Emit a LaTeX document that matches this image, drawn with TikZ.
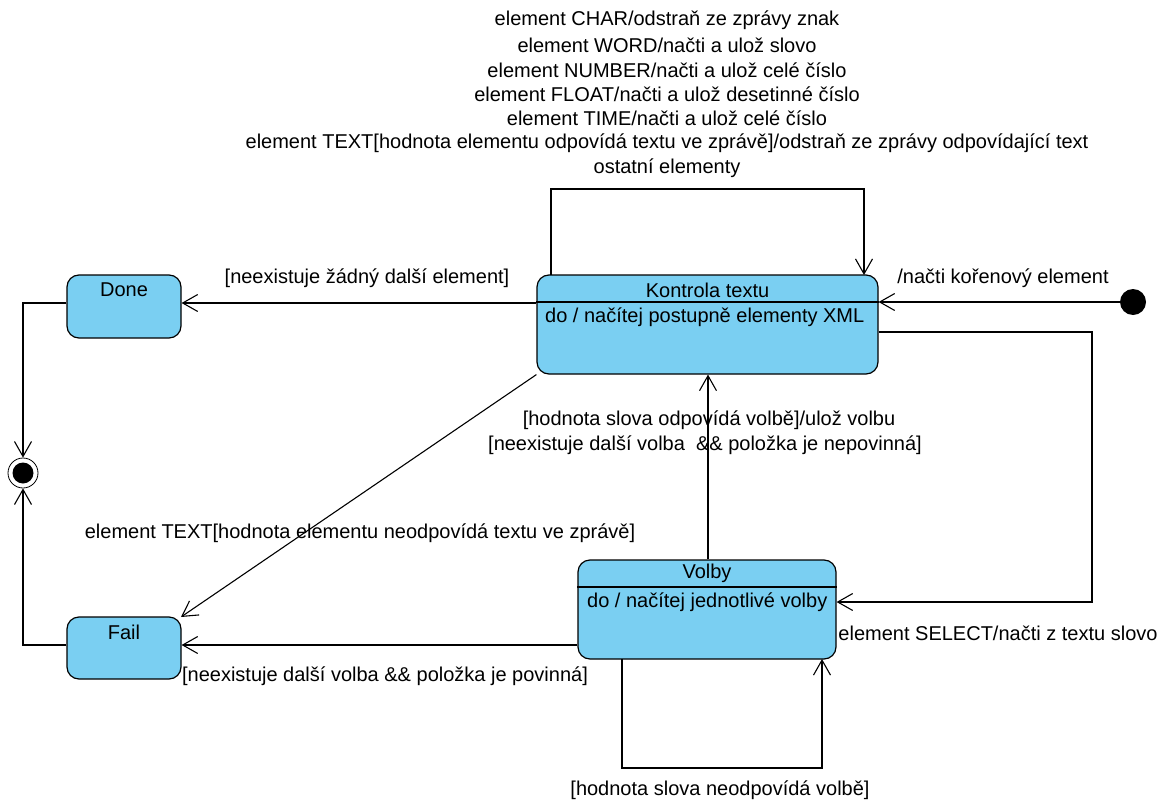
\documentclass[tikz,border=0pt]{standalone}
\usepackage{fontspec}
\setmainfont{Liberation Sans}
\usetikzlibrary{arrows.meta}
\definecolor{stfill}{RGB}{122,207,242}
\tikzset{
  state/.style={draw=black, line width=1.2pt, fill=stfill, rounded corners=12pt, inner sep=0pt},
  conn/.style={draw=black, line width=1.1pt, -{Straight Barb[length=15pt,width=17pt,line width=1.1pt]}},
  lbl/.style={font=\fontsize{20}{22}\selectfont, inner sep=0pt, anchor=center},
  ttl/.style={font=\fontsize{20}{22}\selectfont, inner sep=0pt},
}
\begin{document}
\begin{tikzpicture}[x=1pt,y=-1pt]
\useasboundingbox (0,0) rectangle (1157,800);
% states
\node[state, minimum width=341pt, minimum height=99pt] (kt) at (707.5,324.5) {};
\draw[line width=1.2pt] (kt.west |- 0,302) -- (kt.east |- 0,302);
\node[ttl] (ktt) at (707.5,290) {Kontrola textu};
\node[ttl, anchor=west] (kte) at (545,317) {do / načítej postupně elementy XML};

\node[state, minimum width=114pt, minimum height=63pt] (done) at (124,306.5) {};
\node[ttl] (donet) at (124,290) {Done};

\node[state, minimum width=114pt, minimum height=62pt] (fail) at (124,648) {};
\node[ttl] (failt) at (124,632) {Fail};

\node[state, minimum width=258pt, minimum height=99pt] (vol) at (707,609.5) {};
\draw[line width=1.2pt] (vol.west |- 0,587) -- (vol.east |- 0,587);
\node[ttl] (volt) at (707,573) {Volby};
\node[ttl, anchor=west] (vole) at (587,602) {do / načítej jednotlivé volby};

% initial and final
\node[circle, fill=black, minimum size=26pt, inner sep=0pt] (init) at (1133,302) {};
\node[circle, draw=black, line width=0.8pt, fill=white, minimum size=30pt, inner sep=0pt] (fin) at (23,473) {};
\node[circle, fill=black, minimum size=21pt, inner sep=0pt] (finin) at (23,473) {};

% coordinates
\coordinate (k1) at (551,275);
\coordinate (k2) at (864,275);
\coordinate (v1) at (622,659);
\coordinate (v2) at (822,659);

% transitions
\draw[conn] (init.west) -- (kt.east |- init.west);
\draw[conn] (kt.west |- 0,303) -- (done.east |- 0,303);
\draw[conn] (done.west |- 0,303) -| (fin.north);
\draw[conn] (fail.west |- 0,645) -| (fin.south);
\draw[conn] (k1) |- (864,189) -- (k2);
\draw[conn] (kt.east |- 0,332) -| (1092,602) -- (vol.east |- 0,602);
\draw[conn] (kt.south west) -- (181,617);
\draw[conn] (vol.north -| 708,0) -- (kt.south -| 708,0);
\draw[conn] (vol.west |- 0,645) -- (fail.east |- 0,645);
\draw[conn] (v1) |- (822,768) -- (v2);

% labels
\node[lbl] (t1) at (667,20) {element CHAR/odstraň ze zprávy znak};
\node[lbl] (t2) at (667,45) {element WORD/načti a ulož slovo};
\node[lbl] (t3) at (667,70) {element NUMBER/načti a ulož celé číslo};
\node[lbl] (t4) at (667,94) {element FLOAT/načti a ulož desetinné číslo};
\node[lbl] (t5) at (667,118) {element TIME/načti a ulož celé číslo};
\node[lbl] (t6) at (667,143) {element TEXT[hodnota elementu odpovídá textu ve zprávě]/odstraň ze zprávy odpovídající text};
\node[lbl] (t7) at (667,168) {ostatní elementy};
\node[lbl] (l1) at (1003,278) {/načti kořenový element};
\node[lbl] (l2) at (367,278) {[neexistuje žádný další element]};
\node[lbl] (l3) at (709,420) {[hodnota slova odpovídá volbě]/ulož volbu};
\node[lbl] (l4) at (705,445) {[neexistuje další volba\ \ \&\& položka je nepovinná]};
\node[lbl] (l5) at (360,533) {element TEXT[hodnota elementu neodpovídá textu ve zprávě]};
\node[lbl] (l6) at (998,633) {element SELECT/načti z textu slovo};
\node[lbl] (l7) at (385,676) {[neexistuje další volba \&\& položka je povinná]};
\node[lbl] (l8) at (720,790) {[hodnota slova neodpovídá volbě]};
\end{tikzpicture}
\end{document}
